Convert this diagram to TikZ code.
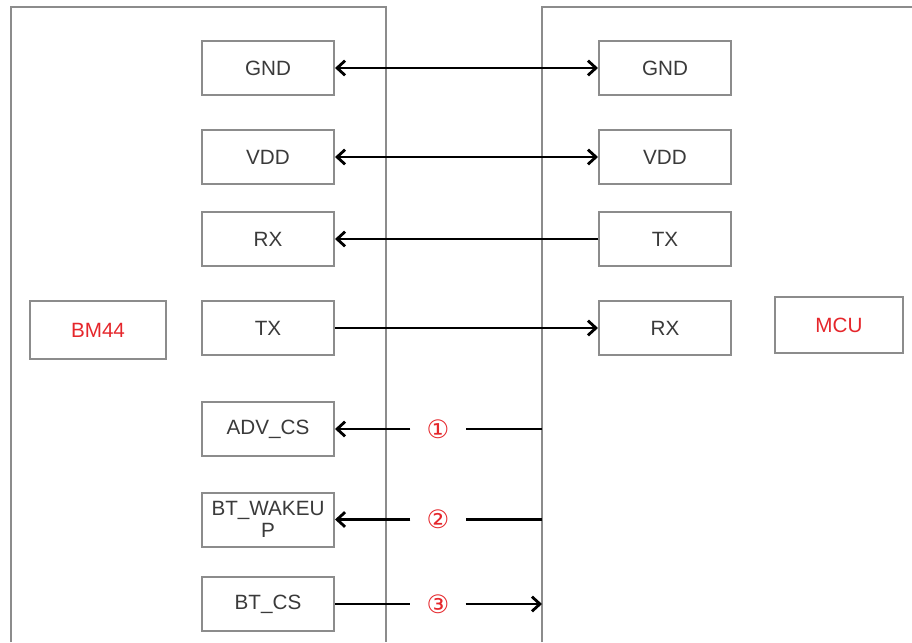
\documentclass[tikz,border=0pt]{standalone}
\usepackage{fontspec}
\setmainfont{Liberation Sans}
\newfontfamily\circfont{DejaVu Sans}
\usepackage{tikz}
\usetikzlibrary{arrows.meta}
\definecolor{edgegray}{HTML}{8C8C8C}
\definecolor{textgray}{HTML}{3A3A3A}
\definecolor{markred}{HTML}{E5262B}
\tikzset{
    pinbox/.style={draw=edgegray,line width=1.5pt,minimum width=99pt,minimum height=40.5pt,
        inner sep=1pt,text=textgray,font=\fontsize{15.5pt}{16pt}\selectfont,align=center},
    chipbox/.style={draw=edgegray,line width=1.5pt,text=markred,font=\fontsize{15.5pt}{16pt}\selectfont},
    wire/.style={line width=2.1pt,black},
    numtag/.style={text=markred,font=\circfont\fontsize{19pt}{20pt}\selectfont,minimum width=41pt,inner sep=0pt}
}
\begin{document}
\begin{tikzpicture}[x=0.75pt,y=-0.75pt,>={Straight Barb[length=6pt,width=11pt,line width=2.1pt]}]
    \useasboundingbox (0,0) rectangle (912,642);
    % --- outlines of the two boards ---
    \draw[edgegray,line width=1.5pt] (11,642) -- (11,7) -- (386,7) -- (386,642);
    \draw[edgegray,line width=1.5pt] (542,642) -- (542,7) -- (912,7);
    \node[chipbox,minimum width=102pt,minimum height=43.5pt] (bm) at (98,330) {BM44};
    \node[chipbox,minimum width=96pt,minimum height=42pt] (mcu) at (839,325) {MCU};
    % --- BM44 pins ---
    \node[pinbox] (lgnd) at (268,68) {GND};
    \node[pinbox] (lvdd) at (268,157) {VDD};
    \node[pinbox] (lrx) at (268,239) {RX};
    \node[pinbox] (ltx) at (268,328) {TX};
    \node[pinbox] (ladv) at (268,429) {ADV\_CS};
    \node[pinbox] (lwake) at (268,519.5) {BT\_WAKEU\\P};
    \node[pinbox] (lcs) at (268,604) {BT\_CS};
    % --- MCU pins ---
    \node[pinbox] (rgnd) at (665,68) {GND};
    \node[pinbox] (rvdd) at (665,157) {VDD};
    \node[pinbox] (rtx) at (665,239) {TX};
    \node[pinbox] (rrx) at (665,328) {RX};
    % --- wires ---
    \draw[wire,<->] (lgnd) -- (rgnd);
    \draw[wire,<->] (lvdd) -- (rvdd);
    \draw[wire,->] (rtx) -- (lrx);
    \draw[wire,->] (ltx) -- (rrx);
    \coordinate (advend) at (542,429);
    \coordinate (wakeend) at (542,519.5);
    \coordinate (csend) at (542,604);
    \node[numtag] (m1) at (438,429) {①};
    \node[numtag] (m2) at (438,519.5) {②};
    \node[numtag] (m3) at (438,604) {③};
    \draw[wire] (advend) -- (m1);
    \draw[wire,->] (m1) -- (ladv);
    \draw[wire] (wakeend) -- (m2);
    \draw[wire,->] (m2) -- (lwake);
    \draw[wire] (lcs) -- (m3);
    \draw[wire,->] (m3) -- (csend);
\end{tikzpicture}
\end{document}
